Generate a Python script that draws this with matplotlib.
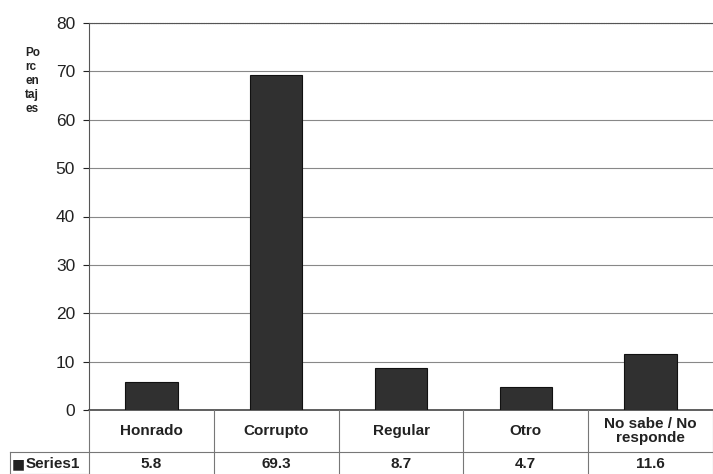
import matplotlib.pyplot as plt

# data
categories = ["Honrado", "Corrupto", "Regular", "Otro", "No sabe / No\nresponde"]
values = [5.8, 69.3, 8.7, 4.7, 11.6]
series_name = "Series1"
yticks = [0, 10, 20, 30, 40, 50, 60, 70, 80]

plt.rcParams["font.family"] = ["Liberation Sans", "DejaVu Sans"]

W, H = 713, 474
fig = plt.figure(figsize=(W / 100, H / 100), dpi=100)

# -------------------------
# bar chart
# -------------------------
left, right, top, bottom = 89, 713, 23, 410
ax = fig.add_axes([left / W, (H - bottom) / H, (right - left) / W, (bottom - top) / H])
x = list(range(len(categories)))
ax.bar(x, values, width=0.42, color="#303030", edgecolor="#111111", linewidth=0.8, zorder=3)
ax.set_xlim(-0.5, len(categories) - 0.5)
ax.set_ylim(0, 80)
ax.set_yticks(yticks)
ax.set_yticklabels([str(t) for t in yticks], fontsize=12.5)
ax.tick_params(axis="y", length=4, width=0.8, colors="#222222", pad=6)
ax.set_xticks([])
ax.grid(axis="y", color="#888888", linewidth=0.8, zorder=0)
ax.spines["right"].set_visible(False)
ax.spines["top"].set_color("#555555")
ax.spines["top"].set_linestyle((0, (1, 0.6)))
ax.spines["left"].set_color("#555555")
ax.spines["bottom"].set_color("#444444")
ax.spines["bottom"].set_linewidth(1.2)

fig.text(25 / W, 1 - 81 / H, "Po\nrc\nen\ntaj\nes", fontsize=8.5, fontweight="bold",
         va="center", ha="left", linespacing=1.25, color="#222222")

# -------------------------
# data table under the chart
# -------------------------
tab_h = H - bottom
tax = fig.add_axes([left / W, 0, (right - left) / W, tab_h / H])
tax.set_xlim(-0.5, len(categories) - 0.5)
tax.set_ylim(0, tab_h)
tax.axis("off")
row_y = H - 452
line_kw = dict(color="#777777", linewidth=0.8, clip_on=False)
for i in range(len(categories) + 1):
    tax.plot([i - 0.5, i - 0.5], [0, tab_h], **line_kw)
label_left = -0.5 - (left - 10) / ((right - left) / len(categories))
tax.plot([label_left, len(categories) - 0.5], [row_y, row_y], **line_kw)
tax.plot([label_left, label_left], [0, row_y], **line_kw)
tax.plot([label_left, -0.5], [0.5, 0.5], **line_kw)

for i, (c, v) in enumerate(zip(categories, values)):
    tax.text(i, (row_y + tab_h) / 2, c, ha="center", va="center", fontsize=11,
             fontweight="bold", color="#222222", linespacing=1.05)
    tax.text(i, row_y / 2 - 1, f"{v}", ha="center", va="center", fontsize=11,
             fontweight="bold", color="#222222")
tax.text(label_left + 0.015, row_y / 2 - 1, "\u25a0", ha="left", va="center",
         fontsize=10, color="#222222", family=["DejaVu Sans"])
tax.text(label_left + 0.125, row_y / 2 - 1, series_name, ha="left", va="center",
         fontsize=11, fontweight="bold", color="#222222")

fig.savefig("out.png", dpi=100)
